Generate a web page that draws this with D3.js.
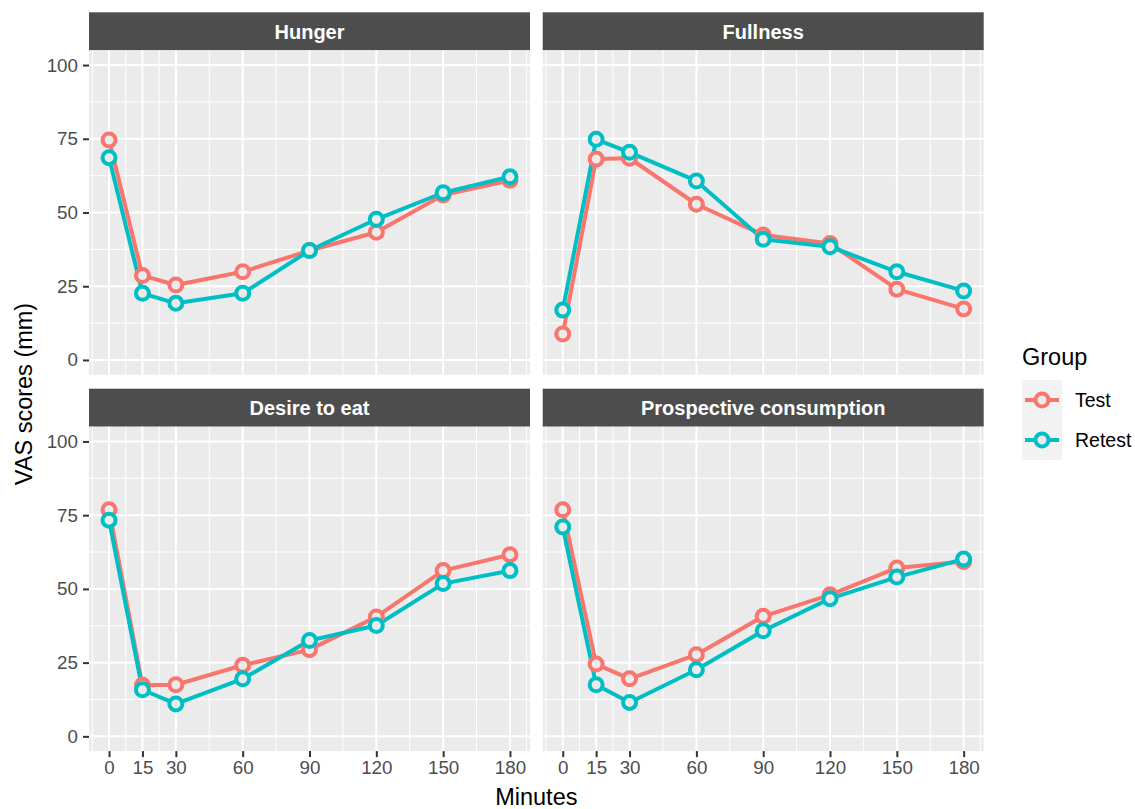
<!DOCTYPE html>
<html>
<head>
<meta charset="utf-8">
<script src="https://cdn.jsdelivr.net/npm/d3@7"></script>
<style>
  body { margin: 0; background: #ffffff; }
  svg { display: block; font-family: "Liberation Sans", Arial, sans-serif; }
</style>
</head>
<body>
<div id="chart"></div>
<script>
// Dados
const minutes = [0, 15, 30, 60, 90, 120, 150, 180];
const measures = ["Hunger", "Fullness", "Desire to eat", "Prospective consumption"];
const groups = ["Test", "Retest"];
const yTicks = [0, 25, 50, 75, 100];

const hungerTest      = [74.6, 28.6, 25.4, 29.9, 37.1, 43.3, 55.9, 60.9];
const hungerRetest    = [68.6, 22.6, 19.2, 22.6, 37.1, 47.7, 56.7, 62.1];
const fullnessTest    = [8.8, 68.1, 68.4, 52.8, 42.4, 39.5, 24.0, 17.3];
const fullnessRetest  = [16.9, 74.8, 70.4, 60.7, 40.9, 38.4, 29.9, 23.4];
const desireTest      = [76.8, 17.3, 17.5, 24.1, 29.4, 40.5, 56.2, 61.6];
const desireRetest    = [73.3, 15.8, 11.0, 19.5, 32.5, 37.6, 51.8, 56.2];
const prospectTest    = [76.8, 24.5, 19.5, 27.7, 40.7, 48.0, 57.1, 59.3];
const prospectRetest  = [71.0, 17.5, 11.5, 22.6, 35.8, 46.7, 54.0, 60.1];

const seriesByMeasure = {
  "Hunger": [hungerTest, hungerRetest],
  "Fullness": [fullnessTest, fullnessRetest],
  "Desire to eat": [desireTest, desireRetest],
  "Prospective consumption": [prospectTest, prospectRetest]
};

const colors = { "Test": "#F8766D", "Retest": "#00BFC4" };

// Layout geral
const W = 1135, H = 809;
const colLeft = [89, 542.7];
const rowTop = [12.3, 388.7];
const stripH = 38;
const pw = 441, ph = 324.4;
const lineW = 4, ptR = 6.5;

const svg = d3.select("#chart").append("svg")
  .attr("width", W).attr("height", H);

const x = d3.scaleLinear().domain([-9, 189]).range([0, pw]);
const y = d3.scaleLinear().domain([-5, 105]).range([ph, 0]);

const xMinor = [-7.5, 7.5, 22.5, 45, 75, 105, 135, 165, 187.5];
const yMinor = [12.5, 37.5, 62.5, 87.5];

const line = d3.line()
  .x((d, i) => x(minutes[i]))
  .y(d => y(d));

measures.forEach((m, k) => {
  const col = k % 2, row = Math.floor(k / 2);
  const g = svg.append("g")
    .attr("transform", `translate(${colLeft[col]},${rowTop[row]})`);

  // faixa do título
  g.append("rect")
    .attr("width", pw).attr("height", stripH)
    .attr("fill", "#4D4D4D");
  g.append("text")
    .attr("x", pw / 2).attr("y", 26.3)
    .attr("text-anchor", "middle")
    .attr("fill", "#ffffff")
    .style("font-size", "20px")
    .style("font-weight", "bold")
    .text(m);

  const p = g.append("g").attr("transform", `translate(0,${stripH})`);
  p.append("rect").attr("width", pw).attr("height", ph).attr("fill", "#EBEBEB");

  // grade menor
  p.selectAll(".xminor").data(xMinor).enter().append("line")
    .attr("x1", d => x(d)).attr("x2", d => x(d))
    .attr("y1", 0).attr("y2", ph)
    .attr("stroke", "#ffffff").attr("stroke-width", 1);
  p.selectAll(".yminor").data(yMinor).enter().append("line")
    .attr("x1", 0).attr("x2", pw)
    .attr("y1", d => y(d)).attr("y2", d => y(d))
    .attr("stroke", "#ffffff").attr("stroke-width", 1);

  // grade maior
  p.selectAll(".xmajor").data(minutes).enter().append("line")
    .attr("x1", d => x(d)).attr("x2", d => x(d))
    .attr("y1", 0).attr("y2", ph)
    .attr("stroke", "#ffffff").attr("stroke-width", 2);
  p.selectAll(".ymajor").data(yTicks).enter().append("line")
    .attr("x1", 0).attr("x2", pw)
    .attr("y1", d => y(d)).attr("y2", d => y(d))
    .attr("stroke", "#ffffff").attr("stroke-width", 2);

  const series = seriesByMeasure[m];

  // linhas
  groups.forEach((gr, j) => {
    p.append("path")
      .datum(series[j])
      .attr("d", line)
      .attr("fill", "none")
      .attr("stroke", colors[gr])
      .attr("stroke-width", lineW)
      .attr("stroke-linejoin", "round");
  });

  // pontos
  groups.forEach((gr, j) => {
    p.selectAll(".pt" + j).data(series[j]).enter().append("circle")
      .attr("cx", (d, i) => x(minutes[i]))
      .attr("cy", d => y(d))
      .attr("r", ptR)
      .attr("fill", "#EBEBEB")
      .attr("stroke", colors[gr])
      .attr("stroke-width", lineW);
  });

  // eixo y (coluna da esquerda)
  if (col === 0) {
    const ya = p.append("g").call(d3.axisLeft(y).tickValues(yTicks).tickSize(6).tickPadding(5));
    ya.select(".domain").remove();
    ya.selectAll(".tick line").attr("stroke", "#333333").attr("stroke-width", 2);
    ya.selectAll(".tick text")
      .attr("fill", "#4D4D4D")
      .style("font-size", "18.8px")
      .style("font-family", "Liberation Sans, Arial, sans-serif");
  }

  // eixo x (linha de baixo)
  if (row === 1) {
    const xa = p.append("g")
      .attr("transform", `translate(0,${ph})`)
      .call(d3.axisBottom(x).tickValues(minutes).tickSize(6).tickPadding(4));
    xa.select(".domain").remove();
    xa.selectAll(".tick line").attr("stroke", "#333333").attr("stroke-width", 2);
    xa.selectAll(".tick text")
      .attr("fill", "#4D4D4D")
      .style("font-size", "18.8px")
      .style("font-family", "Liberation Sans, Arial, sans-serif");
  }
});

// títulos dos eixos
svg.append("text")
  .attr("x", (colLeft[0] + colLeft[1] + pw) / 2)
  .attr("y", 805)
  .attr("text-anchor", "middle")
  .style("font-size", "23.5px")
  .text("Minutes");

svg.append("text")
  .attr("transform", "translate(32,394) rotate(-90)")
  .attr("text-anchor", "middle")
  .style("font-size", "23.5px")
  .text("VAS scores (mm)");

// legenda
const leg = svg.append("g").attr("transform", "translate(1022,0)");
leg.append("text")
  .attr("x", 0).attr("y", 365)
  .style("font-size", "23.5px")
  .text("Group");

const keyY = [380, 420];
groups.forEach((gr, j) => {
  const k = leg.append("g").attr("transform", `translate(0,${keyY[j]})`);
  k.append("rect").attr("width", 40).attr("height", 40).attr("fill", "#F2F2F2");
  k.append("line")
    .attr("x1", 3).attr("x2", 37).attr("y1", 20).attr("y2", 20)
    .attr("stroke", colors[gr]).attr("stroke-width", lineW);
  k.append("circle")
    .attr("cx", 20).attr("cy", 20).attr("r", ptR)
    .attr("fill", "#EBEBEB")
    .attr("stroke", colors[gr]).attr("stroke-width", lineW);
  k.append("text")
    .attr("x", 53).attr("y", 26.5)
    .style("font-size", "19.5px")
    .text(gr);
});
</script>
</body>
</html>
